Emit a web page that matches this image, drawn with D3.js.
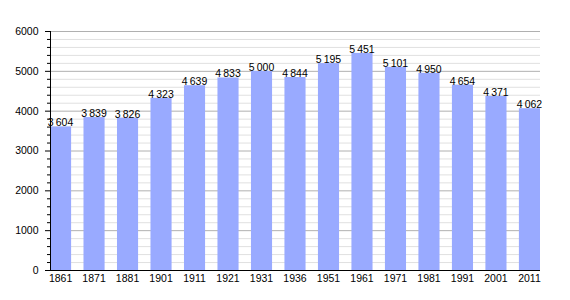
<!DOCTYPE html>
<html><head><meta charset="utf-8">
<script src="https://cdn.jsdelivr.net/npm/d3@7"></script>
<style>body{margin:0;background:#fff}svg{display:block;font-family:"Liberation Sans",Arial,sans-serif}</style>
</head><body><svg id="c" width="570" height="300"></svg>
<script>
const years = ["1861","1871","1881","1901","1911","1921","1931","1936","1951","1961","1971","1981","1991","2001","2011"];
const population = [3604,3839,3826,4323,4639,4833,5000,4844,5195,5451,5101,4950,4654,4371,4062];
const yTicks = [0,1000,2000,3000,4000,5000,6000];

(function () {
const svg = d3.select("#c");
const mLeft = 50, mRight = 540, mTop = 31, mBottom = 270;
const x = d3.scaleBand().domain(years).range([mLeft, mRight]).paddingInner(0.37).paddingOuter(0);
const y = d3.scaleLinear().domain([0, 6000]).range([mBottom, mTop]);
const minor = d3.range(0, 6001, 200);

// minor grid
svg.append("g").selectAll("line").data(minor.filter(v => v % 1000 !== 0)).join("line")
  .attr("x1", mLeft).attr("x2", mRight).attr("y1", d => y(d) + 0.5).attr("y2", d => y(d) + 0.5)
  .attr("stroke", "#e0e0e0").attr("stroke-width", 1);
// major grid
svg.append("g").selectAll("line").data(yTicks.filter(v => v > 0)).join("line")
  .attr("x1", mLeft).attr("x2", mRight).attr("y1", d => y(d) + 0.5).attr("y2", d => y(d) + 0.5)
  .attr("stroke", "#b0b0b0").attr("stroke-width", 1);

// bars
svg.append("g").selectAll("rect").data(population).join("rect")
  .attr("x", (d, i) => x(years[i])).attr("width", x.bandwidth())
  .attr("y", d => y(d)).attr("height", d => mBottom - y(d))
  .attr("fill", "#99aaff");

// value labels
const fmt = v => { const s = String(v); return s.length > 3 ? s.slice(0, -3) + "\u2009" + s.slice(-3) : s; };
svg.append("g").selectAll("text").data(population).join("text")
  .attr("x", (d, i) => x(years[i]) + x.bandwidth() / 2).attr("y", d => y(d))
  .attr("text-anchor", "middle").attr("font-size", 10.5).attr("fill", "#000")
  .text(fmt);

// y axis minor ticks
svg.append("g").selectAll("line").data(minor).join("line")
  .attr("x1", d => d % 1000 === 0 ? mLeft - 5 : mLeft - 3).attr("x2", mLeft)
  .attr("y1", d => y(d) + 0.5).attr("y2", d => y(d) + 0.5)
  .attr("stroke", "#000");
// y axis
const yAxis = d3.axisLeft(y).tickValues(yTicks).tickSize(0).tickPadding(12).tickFormat(d3.format("d"));
svg.append("g").attr("transform", `translate(${mLeft + 0.5},0)`).call(yAxis)
  .call(g => g.select(".domain").remove())
  .call(g => g.selectAll("text").attr("font-size", 10.5).attr("font-family", "Liberation Sans, Arial, sans-serif"));
svg.append("line").attr("x1", mLeft + 0.5).attr("x2", mLeft + 0.5).attr("y1", mTop).attr("y2", mBottom + 1).attr("stroke", "#000");

// x axis
const xAxis = d3.axisBottom(x).tickSize(0).tickPadding(5);
svg.append("g").attr("transform", `translate(0,${mBottom})`).call(xAxis)
  .call(g => g.select(".domain").remove())
  .call(g => g.selectAll("text").attr("font-size", 10.5).attr("font-family", "Liberation Sans, Arial, sans-serif"));
svg.append("line").attr("x1", mLeft).attr("x2", mRight).attr("y1", mBottom + 0.5).attr("y2", mBottom + 0.5).attr("stroke", "#000");
})();
</script></body></html>
